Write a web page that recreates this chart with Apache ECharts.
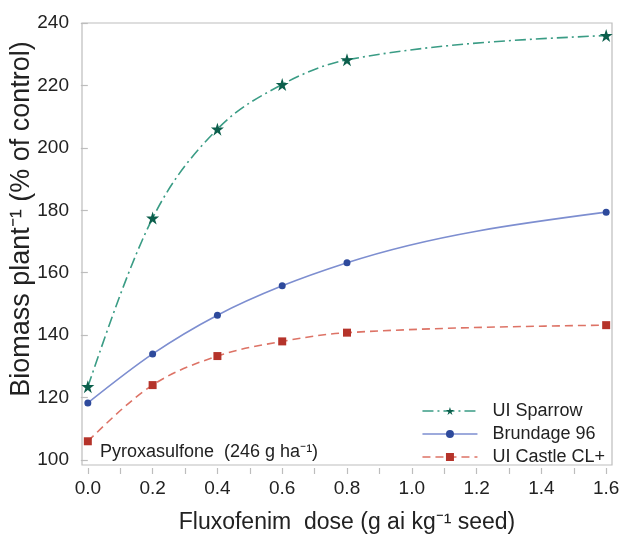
<!DOCTYPE html>
<html><head><meta charset="utf-8">
<script src="https://cdn.jsdelivr.net/npm/echarts@6/dist/echarts.min.js"></script>
<style>html,body{margin:0;padding:0;background:#fff}#c{width:620px;height:541px}</style>
</head><body><div id="c"></div>
<script>
const doses = [0, 0.2, 0.4, 0.6, 0.8, 1.6];
const sparrow = [123.5, 177.5, 206.0, 220.3, 228.2, 236.0];
const brundage = [118.3, 134.0, 146.4, 155.8, 163.2, 179.4];
const castle = [106.0, 124.0, 133.3, 138.0, 140.8, 143.2];
const xTicks = [0, 0.1, 0.2, 0.3, 0.4, 0.5, 0.6, 0.7, 0.8, 0.9, 1.0, 1.1, 1.2, 1.3, 1.4, 1.5, 1.6];
const xLabels = [0, 0.2, 0.4, 0.6, 0.8, 1.0, 1.2, 1.4, 1.6];
const yTicks = [100, 120, 140, 160, 180, 200, 220, 240];
const names = ['UI Sparrow', 'Brundage 96', 'UI Castle CL+'];

const font = '"Liberation Sans", Arial, sans-serif';
const styles = [
  {line: {color: '#3a9c85', width: 1.6, type: [11, 4, 2, 4]}, item: '#0c5f4c',
   symbol: 'path://M50,0 L61.8,36.2 L100,36.2 L69.1,58.8 L80.9,95.1 L50,72.4 L19.1,95.1 L30.9,58.8 L0,36.2 L38.2,36.2 Z', size: 13},
  {line: {color: '#7d8ed0', width: 1.6, type: 'solid'}, item: '#2e4a9c', symbol: 'circle', size: 7},
  {line: {color: '#dd7366', width: 1.6, type: [8, 5]}, item: '#b5332a', symbol: 'rect', size: 8}
];
const seriesVals = [sparrow, brundage, castle];
const pair = (ys) => doses.map((d, i) => [d, ys[i]]);

// monotone-x cubic path through the library-projected points
function monoPath(pts) {
  const n = pts.length;
  const sign = v => v < 0 ? -1 : 1;
  const t = new Array(n);
  for (let i = 1; i < n - 1; i++) {
    const h0 = pts[i][0] - pts[i-1][0], h1 = pts[i+1][0] - pts[i][0];
    const s0 = (pts[i][1] - pts[i-1][1]) / h0, s1 = (pts[i+1][1] - pts[i][1]) / h1;
    const p = (s0 * h1 + s1 * h0) / (h0 + h1);
    t[i] = (sign(s0) + sign(s1)) * Math.min(Math.abs(s0), Math.abs(s1), 0.5 * Math.abs(p)) || 0;
  }
  const hA = pts[1][0] - pts[0][0];
  t[0] = (3 * (pts[1][1] - pts[0][1]) / hA - t[1]) / 2;
  const hB = pts[n-1][0] - pts[n-2][0];
  t[n-1] = (3 * (pts[n-1][1] - pts[n-2][1]) / hB - t[n-2]) / 2;
  let d = 'M' + pts[0][0] + ',' + pts[0][1];
  for (let i = 0; i < n - 1; i++) {
    const dx = (pts[i+1][0] - pts[i][0]) / 3;
    d += ' C' + (pts[i][0] + dx) + ',' + (pts[i][1] + dx * t[i]) + ' ' +
         (pts[i+1][0] - dx) + ',' + (pts[i+1][1] - dx * t[i+1]) + ' ' +
         pts[i+1][0] + ',' + pts[i+1][1];
  }
  return d;
}

const series = [];
seriesVals.forEach((vals, k) => {
  series.push({
    name: names[k] + ' curve', type: 'custom', silent: true, z: 2,
    data: pair(vals),
    renderItem: (params, api) => {
      if (params.dataIndex !== 0) return null;
      const pts = pair(vals).map(p => api.coord(p));
      return {type: 'path', shape: {pathData: monoPath(pts)},
        style: {fill: 'none', stroke: styles[k].line.color, lineWidth: styles[k].line.width,
          lineDash: Array.isArray(styles[k].line.type) ? styles[k].line.type : null}};
    }
  });
});
seriesVals.forEach((vals, k) => {
  series.push({
    name: names[k], type: 'line', data: pair(vals), z: 3,
    symbol: styles[k].symbol, symbolSize: styles[k].size,
    lineStyle: {width: 0, opacity: 0}, itemStyle: {color: styles[k].item}
  });
});

const chart = echarts.init(document.getElementById('c'), null, {renderer: 'canvas'});
chart.setOption({
  animation: false,
  textStyle: {fontFamily: font},
  grid: {left: 82, right: 8, top: 23, bottom: 76, show: true, borderColor: '#bdbdbd', borderWidth: 1.2,
         containLabel: false, outerBoundsMode: 'none'},
  xAxis: {
    type: 'value', min: -0.018, max: 1.618, offset: 3,
    axisLine: {show: false},
    splitLine: {show: false},
    axisTick: {show: true, length: 6, lineStyle: {color: '#bdbdbd', width: 1.2}, customValues: xTicks},
    axisLabel: {customValues: xLabels, formatter: v => v.toFixed(1), fontSize: 19, color: '#222', margin: 11, fontFamily: font},
    name: 'Fluxofenim  dose (g ai kg\u207B\u00B9 seed)', nameLocation: 'middle', nameGap: 43,
    nameTextStyle: {fontSize: 23, color: '#222', fontFamily: font}
  },
  yAxis: {
    type: 'value', min: 98.4, max: 240, offset: 2,
    axisLine: {show: false},
    splitLine: {show: false},
    axisTick: {show: true, length: 7, lineStyle: {color: '#bdbdbd', width: 1.2}, customValues: yTicks},
    axisLabel: {customValues: yTicks, fontSize: 19, color: '#222', margin: 11, fontFamily: font}
  },
  legend: {
    orient: 'vertical', right: 10, top: 397, itemGap: 5, itemWidth: 55, itemHeight: 10,
    textStyle: {fontSize: 18, color: '#222', fontFamily: font, padding: [0, 0, 0, 10]},
    data: names.map((nm, k) => ({name: nm, lineStyle: {color: styles[k].line.color, width: 1.6, type: styles[k].line.type, opacity: 1}}))
  },
  graphic: [{
    type: 'text', left: 100, top: 443,
    style: {text: 'Pyroxasulfone  (246 g ha\u207B\u00B9)', fontSize: 18, fill: '#222', fontFamily: font}
  }, {
    type: 'text', x: 22, y: 219, rotation: Math.PI / 2,
    style: {text: 'Biomass plant\u207B\u00B9 (% of control)', fontSize: 27, fill: '#222', fontFamily: font,
            align: 'center', verticalAlign: 'middle'}
  }],
  series: series
});
</script></body></html>
